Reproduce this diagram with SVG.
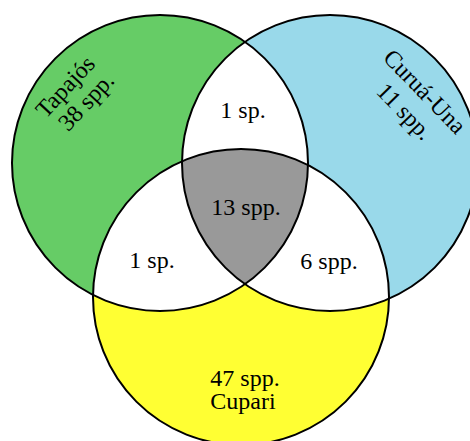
<svg xmlns="http://www.w3.org/2000/svg" width="470" height="441" viewBox="0 0 470 441">
<style>
.lbl{font-family:"Liberation Serif","Times New Roman",serif;font-size:24px;fill:#000;text-anchor:middle}
.edge{fill:none;stroke:#000;stroke-width:2}
</style>
<defs>
<circle id="cL" cx="160" cy="163" r="148"/>
<circle id="cR" cx="330" cy="163" r="148"/>
<circle id="cB" cx="241" cy="297" r="148"/>
<clipPath id="clipL"><use href="#cL"/></clipPath>
<clipPath id="clipR"><use href="#cR"/></clipPath>
</defs>
<rect width="470" height="441" fill="#fff"/>
<g id="regions">
<use href="#cL" fill="#66cc66"/>
<use href="#cR" fill="#99d9ea"/>
<use href="#cB" fill="#ffff33"/>
<use href="#cR" fill="#fff" clip-path="url(#clipL)"/>
<use href="#cB" fill="#fff" clip-path="url(#clipL)"/>
<use href="#cB" fill="#fff" clip-path="url(#clipR)"/>
<g clip-path="url(#clipR)"><use href="#cB" fill="#999999" clip-path="url(#clipL)"/></g>
</g>
<g id="tapajos">
<use href="#cL" class="edge"/>
<text class="lbl" transform="translate(71,92) rotate(-47)">Tapajós</text>
<text class="lbl" transform="translate(92,107) rotate(-47)">38 spp.</text>
</g>
<g id="curua-una">
<use href="#cR" class="edge"/>
<text class="lbl" transform="translate(419,97) rotate(46)">Curuá-Una</text>
<text class="lbl" transform="translate(399,117) rotate(46)">11 spp.</text>
</g>
<g id="cupari">
<use href="#cB" class="edge"/>
<text class="lbl" x="245" y="386">47 spp.</text>
<text class="lbl" x="243" y="409">Cupari</text>
</g>
<g id="overlaps">
<text class="lbl" x="243" y="118">1 sp.</text>
<text class="lbl" x="246" y="215">13 spp.</text>
<text class="lbl" x="152" y="268">1 sp.</text>
<text class="lbl" x="329" y="269">6 spp.</text>
</g>
</svg>
